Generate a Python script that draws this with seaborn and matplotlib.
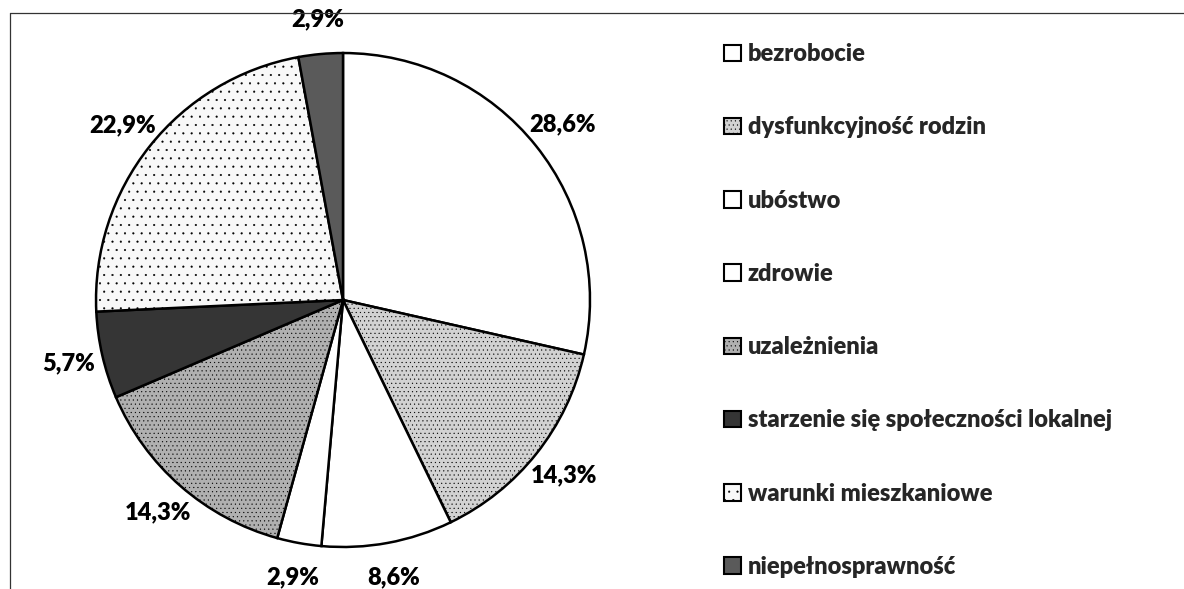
import matplotlib
matplotlib.use("Agg")
import matplotlib.pyplot as plt
from matplotlib.lines import Line2D
import seaborn as sns

# dane (%)
kategorie = ["bezrobocie", "dysfunkcyjność rodzin", "ubóstwo", "zdrowie",
             "uzależnienia", "starzenie się społeczności lokalnej",
             "warunki mieszkaniowe", "niepełnosprawność"]
procenty = [28.6, 14.3, 8.6, 2.9, 14.3, 5.7, 22.9, 2.9]
etykiety = ["28,6%", "14,3%", "8,6%", "2,9%", "14,3%", "5,7%", "22,9%", "2,9%"]

kolory = ["#ffffff", "#d2d2d2", "#ffffff", "#ffffff",
          "#b0b0b0", "#353535", "#f8f8f8", "#5a5a5a"]
wzory = ["", "....", "", "", "....", "", "..", ""]

sns.set_theme(style="white")
plt.rcParams["font.family"] = ["Lato", "DejaVu Sans"]
plt.rcParams["hatch.linewidth"] = 0.3

fig = plt.figure(figsize=(11.84, 5.89), dpi=100)
ax = fig.add_axes([0.0811, 0.0713, 0.4172, 0.8387])

wedges, teksty = ax.pie(procenty, labels=etykiety, colors=kolory, startangle=90,
                        counterclock=False, labeldistance=1.14,
                        wedgeprops=dict(edgecolor="black", linewidth=1.8),
                        textprops=dict(fontsize=17, fontweight="heavy", color="black"))
for w, h in zip(wedges, wzory):
    w.set_hatch(h)
for t in teksty:
    t.set_ha("center")
    t.set_va("center")
ax.set_xlim(-1, 1)
ax.set_ylim(-1, 1)
ax.set_aspect("equal")
ax.axis("off")

leg = fig.legend(wedges, kategorie, loc="upper left",
                 bbox_to_anchor=(703 / 1184, 1 - 22 / 589),
                 frameon=False, prop=dict(size=17, weight="heavy"),
                 handlelength=0.7, handleheight=0.7, handletextpad=0.3,
                 labelspacing=2.17)
for p in leg.get_patches():
    p.set_linewidth(1.5)
    p.set_edgecolor("black")

# ramka wykresu (górna i lewa krawędź widoczne na skanie)
fig.add_artist(Line2D([10 / 1184, 1], [1 - 13 / 589, 1 - 13 / 589],
                      color="#333333", linewidth=0.9, transform=fig.transFigure))
fig.add_artist(Line2D([10 / 1184, 10 / 1184], [0, 1 - 13 / 589],
                      color="#333333", linewidth=0.9, transform=fig.transFigure))

fig.savefig("out.png", dpi=100)
